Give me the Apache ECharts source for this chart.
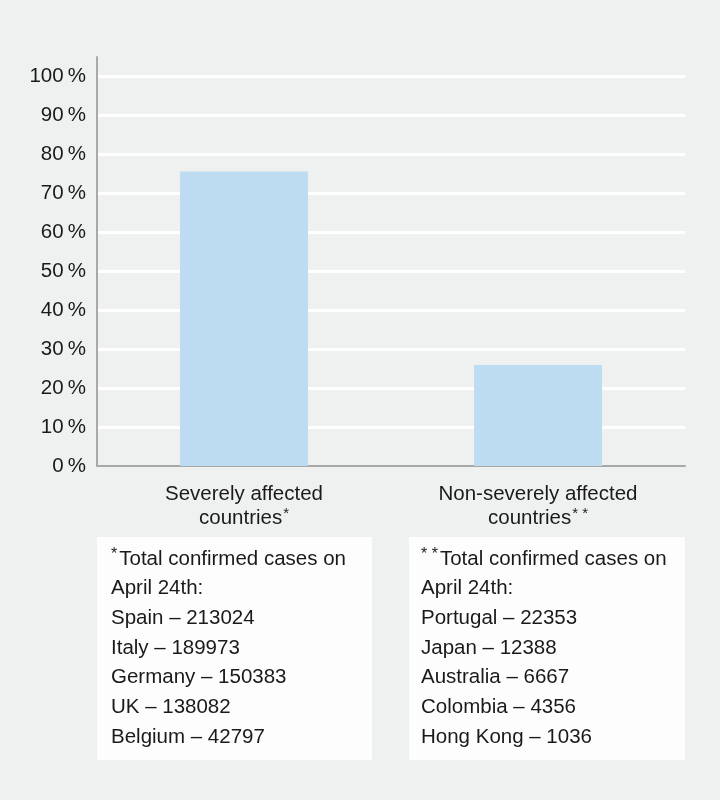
<!DOCTYPE html>
<html><head><meta charset="utf-8">
<script src="https://cdn.jsdelivr.net/npm/echarts@6/dist/echarts.min.js"></script>
<style>html,body{margin:0;padding:0;background:#eff1f0}#c{width:720px;height:800px}</style>
</head><body><div id="c"></div>
<script>
const categories = ['Severely affected\ncountries{sup|*}', 'Non-severely affected\ncountries{sup|* *}'];
const values = [75.6, 25.9];
const yTicks = [0, 10, 20, 30, 40, 50, 60, 70, 80, 90, 100];
const note1Title = '{sup|*}Total confirmed cases on';
const note1Lines = ['April 24th:', 'Spain – 213024', 'Italy – 189973', 'Germany – 150383', 'UK – 138082', 'Belgium – 42797'];
const note2Title = '{sup|* *}Total confirmed cases on';
const note2Lines = ['April 24th:', 'Portugal – 22353', 'Japan – 12388', 'Australia – 6667', 'Colombia – 4356', 'Hong Kong – 1036'];

const chart = echarts.init(document.getElementById('c'), null, {renderer: 'canvas'});
const font = '"Liberation Sans", Arial, sans-serif';
function noteText(title, lines) { return [title].concat(lines).join('\n'); }
const noteRich = { sup: { fontSize: 16, fontFamily: font, color: '#1a1a1a', padding: [0, 2, 9, 0], lineHeight: 29.7 } };
chart.setOption({
  backgroundColor: '#eff1f0',
  animation: false,
  grid: { left: 97, right: 35, top: 57, bottom: 334, containLabel: false },
  xAxis: {
    type: 'category', data: categories,
    axisLine: { show: true, lineStyle: { color: '#a8a8a8', width: 2 } },
    axisTick: { show: false },
    axisLabel: {
      interval: 0, margin: 16, color: '#1a1a1a', fontFamily: font, fontSize: 20.5, lineHeight: 24,
      rich: { sup: { fontSize: 15, fontFamily: font, color: '#1a1a1a', padding: [0, 0, 9, 1], lineHeight: 24 } }
    }
  },
  yAxis: {
    type: 'value', min: 0, max: 105, interval: 10,
    axisLine: { show: true, lineStyle: { color: '#a8a8a8', width: 2 } },
    axisTick: { show: false },
    splitLine: { show: true, showMinLine: false, showMaxLine: false, lineStyle: { color: '#ffffff', width: 3 } },
    axisLabel: {
      margin: 11, color: '#1a1a1a', fontFamily: font, fontSize: 20.5,
      formatter: v => yTicks.indexOf(v) >= 0 ? v + '\u2009%' : '',
      showMaxLabel: false
    }
  },
  series: [{
    type: 'bar', data: values, barWidth: '43.5%',
    itemStyle: { color: '#bedcf1' }
  }],
  graphic: [
    { type: 'rect', left: 97, top: 537, shape: { width: 275, height: 223 }, style: { fill: '#fdfdfd' }, z: 1 },
    { type: 'rect', left: 409, top: 537, shape: { width: 276, height: 223 }, style: { fill: '#fdfdfd' }, z: 1 },
    { type: 'text', left: 111, top: 544, z: 2, style: { text: noteText(note1Title, note1Lines), fill: '#1a1a1a', fontFamily: font, fontSize: 20.5, lineHeight: 29.7, rich: noteRich } },
    { type: 'text', left: 421, top: 544, z: 2, style: { text: noteText(note2Title, note2Lines), fill: '#1a1a1a', fontFamily: font, fontSize: 20.5, lineHeight: 29.7, rich: noteRich } }
  ]
});
</script></body></html>
